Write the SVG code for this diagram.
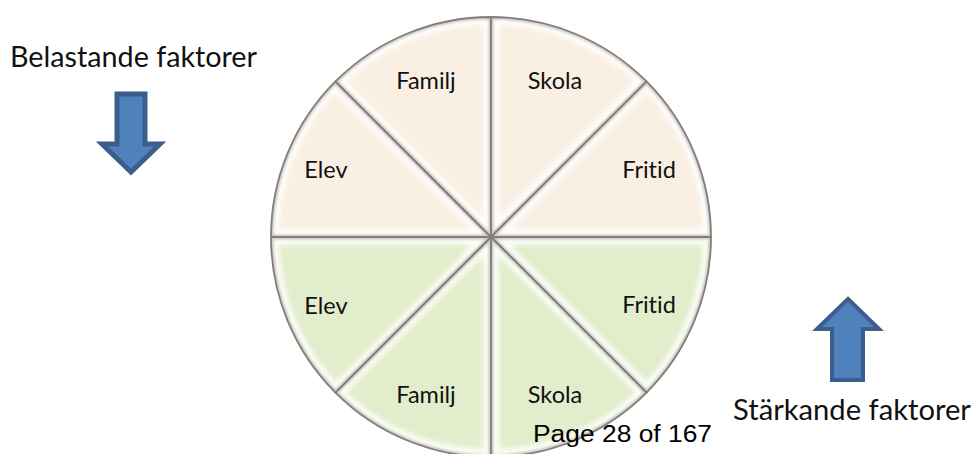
<svg xmlns="http://www.w3.org/2000/svg" width="977" height="454" viewBox="0 0 977 454">
<style>
.lbl{font-family:Lato,"Open Sans","Liberation Sans",sans-serif;font-size:23.5px;fill:#111;text-anchor:middle;font-variant-ligatures:none}
.big{font-family:Lato,"Open Sans","Liberation Sans",sans-serif;font-size:28.5px;fill:#111;font-variant-ligatures:none}
.top{fill:#FAEFE3}
.bot{fill:#E2EDCB}
.hl{fill:none;stroke:#fff;stroke-width:16;opacity:0.85;filter:url(#blur)}
.sh{fill:none;stroke:#6e6862;stroke-width:5;opacity:0.35;filter:url(#blur2)}
.edge{fill:none;stroke:#857e78;stroke-width:1.8}
.arrow{fill:#4F81BD;stroke:#3B5E8C;stroke-width:5;stroke-linejoin:miter}
</style>
<defs>
<filter id="blur" x="-10%" y="-10%" width="120%" height="120%"><feGaussianBlur stdDeviation="2.5"/></filter>
<filter id="blur2" x="-10%" y="-10%" width="120%" height="120%"><feGaussianBlur stdDeviation="1.2"/></filter>
<path id="s1" d="M491,237 L271,237 A220,220 0 0 1 335.44,81.44 Z"/>
<path id="s2" d="M491,237 L335.44,81.44 A220,220 0 0 1 491,17 Z"/>
<path id="s3" d="M491,237 L491,17 A220,220 0 0 1 646.56,81.44 Z"/>
<path id="s4" d="M491,237 L646.56,81.44 A220,220 0 0 1 711,237 Z"/>
<path id="s5" d="M491,237 L711,237 A220,220 0 0 1 646.56,392.56 Z"/>
<path id="s6" d="M491,237 L646.56,392.56 A220,220 0 0 1 491,457 Z"/>
<path id="s7" d="M491,237 L491,457 A220,220 0 0 1 335.44,392.56 Z"/>
<path id="s8" d="M491,237 L335.44,392.56 A220,220 0 0 1 271,237 Z"/>
<clipPath id="c1"><use href="#s1"/></clipPath>
<clipPath id="c2"><use href="#s2"/></clipPath>
<clipPath id="c3"><use href="#s3"/></clipPath>
<clipPath id="c4"><use href="#s4"/></clipPath>
<clipPath id="c5"><use href="#s5"/></clipPath>
<clipPath id="c6"><use href="#s6"/></clipPath>
<clipPath id="c7"><use href="#s7"/></clipPath>
<clipPath id="c8"><use href="#s8"/></clipPath>
</defs>
<rect width="977" height="454" fill="#fff"/>

<g id="sector-elev-top">
<use href="#s1" class="top"/>
<g clip-path="url(#c1)"><use href="#s1" class="hl"/><use href="#s1" class="sh"/></g>
<use href="#s1" class="edge"/>
<text class="lbl" x="326" y="178">Elev</text>
</g>
<g id="sector-familj-top">
<use href="#s2" class="top"/>
<g clip-path="url(#c2)"><use href="#s2" class="hl"/><use href="#s2" class="sh"/></g>
<use href="#s2" class="edge"/>
<text class="lbl" x="426" y="89">Familj</text>
</g>
<g id="sector-skola-top">
<use href="#s3" class="top"/>
<g clip-path="url(#c3)"><use href="#s3" class="hl"/><use href="#s3" class="sh"/></g>
<use href="#s3" class="edge"/>
<text class="lbl" x="555" y="89">Skola</text>
</g>
<g id="sector-fritid-top">
<use href="#s4" class="top"/>
<g clip-path="url(#c4)"><use href="#s4" class="hl"/><use href="#s4" class="sh"/></g>
<use href="#s4" class="edge"/>
<text class="lbl" x="649" y="178">Fritid</text>
</g>
<g id="sector-fritid-bottom">
<use href="#s5" class="bot"/>
<g clip-path="url(#c5)"><use href="#s5" class="hl"/><use href="#s5" class="sh"/></g>
<use href="#s5" class="edge"/>
<text class="lbl" x="649" y="313">Fritid</text>
</g>
<g id="sector-skola-bottom">
<use href="#s6" class="bot"/>
<g clip-path="url(#c6)"><use href="#s6" class="hl"/><use href="#s6" class="sh"/></g>
<use href="#s6" class="edge"/>
<text class="lbl" x="555" y="403">Skola</text>
</g>
<g id="sector-familj-bottom">
<use href="#s7" class="bot"/>
<g clip-path="url(#c7)"><use href="#s7" class="hl"/><use href="#s7" class="sh"/></g>
<use href="#s7" class="edge"/>
<text class="lbl" x="426" y="403">Familj</text>
</g>
<g id="sector-elev-bottom">
<use href="#s8" class="bot"/>
<g clip-path="url(#c8)"><use href="#s8" class="hl"/><use href="#s8" class="sh"/></g>
<use href="#s8" class="edge"/>
<text class="lbl" x="326" y="314">Elev</text>
</g>

<g id="connectors">
<polygon id="arrow-down" class="arrow" points="117,94 145,94 145,144 160,144 131,172 102,144 117,144"/>
<polygon id="arrow-up" class="arrow" style="stroke-width:4" points="848,299 879,329 863,329 863,380 832,380 832,329 817,329"/>
</g>

<g id="label-belastande">
<text class="big" x="10" y="67" textLength="247" lengthAdjust="spacingAndGlyphs">Belastande faktorer</text>
</g>
<g id="label-starkande">
<text class="big" x="733" y="420" textLength="238" lengthAdjust="spacingAndGlyphs">Stärkande faktorer</text>
</g>
<g id="page-number">
<text x="533" y="442" font-family="'Liberation Sans',Arial,sans-serif" font-size="23" fill="#000" textLength="179" lengthAdjust="spacingAndGlyphs">Page 28 of 167</text>
</g>
</svg>
